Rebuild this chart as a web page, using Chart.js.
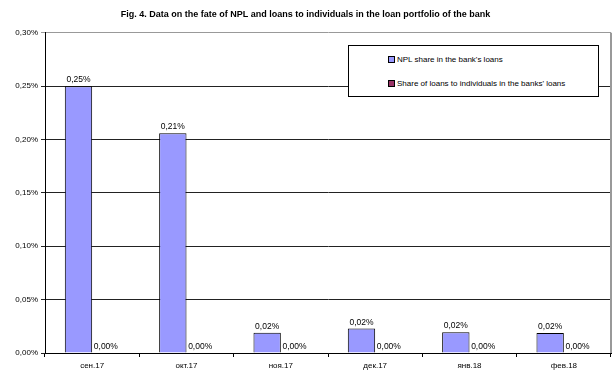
<!DOCTYPE html>
<html>
<head>
<meta charset="utf-8">
<script src="https://cdn.jsdelivr.net/npm/chart.js@4/dist/chart.umd.min.js"></script>
<style>
  html, body { margin: 0; padding: 0; background: #fff; }
  #wrap { position: relative; width: 616px; height: 376px; }
  #legenda {
    position: absolute; left: 348px; top: 45px; width: 249px; height: 50px;
    border: 1px solid #000; background: #fff;
    font: 8px "Liberation Sans", Arial, sans-serif; color: #000;
  }
  .legenda-item { position: absolute; left: 39px; display: flex; align-items: center; white-space: nowrap; }
  .legenda-kleur { display: inline-block; width: 5px; height: 5px; border: 1px solid #000; margin-right: 2px; }
</style>
</head>
<body>
<div id="wrap">
  <canvas id="grafiek" width="616" height="376"></canvas>
  <div id="legenda"></div>
</div>
<script>
const maanden = ['сен.17', 'окт.17', 'ноя.17', 'дек.17', 'янв.18', 'фев.18'];
const nplAandeel = [0.25, 0.206, 0.019, 0.023, 0.0195, 0.0187];
const particulierAandeel = [0, 0, 0, 0, 0, 0];
const yTicks = [0, 0.05, 0.10, 0.15, 0.20, 0.25, 0.30];

const reeksen = [
  { label: "NPL share in the bank's loans", waarden: nplAandeel, kleur: '#9999FF' },
  { label: "Share of loans to individuals in the banks' loans", waarden: particulierAandeel, kleur: '#993366' },
];

const procent = v => v.toFixed(2).replace('.', ',') + '%';

function maakLegenda() {
  const element = document.getElementById('legenda');
  element.innerHTML = reeksen.map((reeks, i) => `
    <span class="legenda-item" style="top:${i === 0 ? 9 : 33}px">
      <span class="legenda-kleur" style="background:${reeks.kleur}"></span>${reeks.label}
    </span>`).join('');
}

const waardeLabels = {
  id: 'waardeLabels',
  afterDatasetsDraw(chart) {
    const ctx = chart.ctx;
    ctx.save();
    ctx.font = '8.5px "Liberation Sans", Arial, sans-serif';
    ctx.fillStyle = '#000';
    ctx.textAlign = 'center';
    ctx.textBaseline = 'bottom';
    chart.data.datasets.forEach((ds, i) => {
      chart.getDatasetMeta(i).data.forEach((bar, j) => {
        ctx.fillText(procent(ds.data[j]), bar.x, bar.y - 2);
      });
    });
    ctx.restore();
  },
};

const rechterRand = {
  id: 'rechterRand',
  afterDraw(chart) {
    const { ctx, chartArea } = chart;
    ctx.save();
    ctx.strokeStyle = '#999';
    ctx.lineWidth = 2;
    ctx.beginPath();
    ctx.moveTo(chartArea.right, chartArea.top);
    ctx.lineTo(chartArea.right, chartArea.bottom);
    ctx.stroke();
    ctx.restore();
  },
};

new Chart(document.getElementById('grafiek'), {
  type: 'bar',
  data: {
    labels: maanden,
    datasets: reeksen.map(reeks => ({
      label: reeks.label,
      data: reeks.waarden,
      backgroundColor: reeks.kleur,
      borderColor: '#000',
      borderWidth: 1,
      categoryPercentage: 0.58,
      barPercentage: 1,
    })),
  },
  options: {
    responsive: false,
    animation: false,
    layout: { padding: { left: 0, right: 5, top: 0, bottom: 0 } },
    plugins: {
      legend: { display: false },
      tooltip: { enabled: false },
      title: {
        display: true,
        text: 'Fig. 4. Data on the fate of NPL and loans to individuals in the loan portfolio of the bank',
        color: '#000',
        font: { family: '"Liberation Sans", Arial, sans-serif', size: 9, weight: 'bold' },
        padding: { top: 9, bottom: 13 },
      },
    },
    scales: {
      x: {
        grid: { offset: true, drawOnChartArea: false, tickLength: 4, color: '#000' },
        border: { color: '#000' },
        ticks: { color: '#000', font: { family: '"Liberation Sans", Arial, sans-serif', size: 8 }, padding: 4 },
        afterFit: scale => { scale.height = 23; },
      },
      y: {
        min: 0,
        max: 0.3,
        afterBuildTicks: scale => { scale.ticks = yTicks.map(value => ({ value })); },
        grid: {
          tickLength: 4,
          color: ctx => (ctx.tick && ctx.tick.value === 0.3 ? '#999' : '#222'),
        },
        border: { color: '#000' },
        ticks: {
          color: '#000',
          font: { family: '"Liberation Sans", Arial, sans-serif', size: 8 },
          padding: 3,
          callback: v => procent(v),
        },
        afterFit: scale => { scale.width = 45; },
      },
    },
  },
  plugins: [waardeLabels, rechterRand],
});

maakLegenda();
</script>
</body>
</html>
